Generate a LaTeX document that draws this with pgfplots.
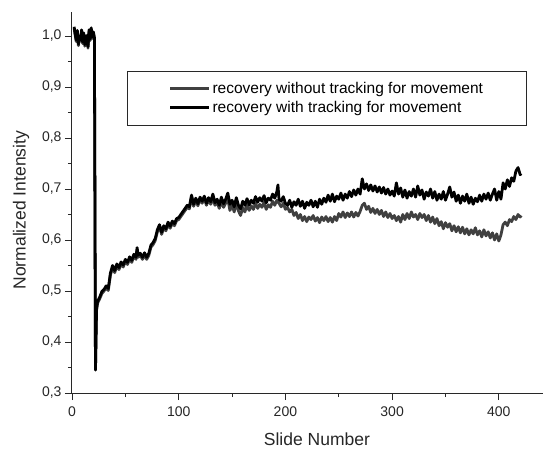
\documentclass[border=0pt]{standalone}
\usepackage{pgfplots}
\pgfplotsset{compat=1.18}
\usepackage{fontspec}
\setmainfont{Liberation Sans}
\definecolor{grayline}{RGB}{64,64,64}
\definecolor{axcol}{RGB}{40,40,40}
\begin{document}
\begin{tikzpicture}
\begin{axis}[
  scale only axis,
  width=471pt, height=381pt,
  xmin=0, xmax=441.4, ymin=0.3, ymax=1.047,
  axis x line*=bottom, axis y line*=left,
  axis line style={line width=1pt, color=axcol},
  every tick/.style={line width=0.9pt, color=axcol},
  tick align=outside,
  major tick length=7pt, minor tick length=4pt,
  minor tick num=1,
  xtick={0,100,200,300,400},
  ytick={0.3,0.4,0.5,0.6,0.7,0.8,0.9,1.0},
  /pgf/number format/assume math mode=true,
  yticklabel style={/pgf/number format/.cd, use comma, fixed, fixed zerofill, precision=1},
  xticklabel style={yshift=-3pt},
  ticklabel style={font=\fontsize{14}{16}\selectfont, text=black!85},
  xlabel={Slide Number}, ylabel={Normalized Intensity},
  label style={font=\fontsize{17.5}{20}\selectfont, text=black!85},
  ylabel style={at={(axis description cs:-0.108,0.48)}, anchor=center},
  xlabel style={at={(axis description cs:0.52,-0.122)}, anchor=center},
  legend style={at={(0.117,0.845)}, anchor=north west, draw=axcol, line width=0.8pt,
    font=\fontsize{15.5}{18}\selectfont, inner xsep=41pt, inner ysep=9pt, row sep=2pt},
  legend cell align=left,
  legend image code/.code={\draw[#1] (0pt,0pt) -- (39pt,0pt);},
  legend image post style={line width=3pt},
]
\coordinate (sw) at (rel axis cs:0,0);
\coordinate (ne) at (rel axis cs:1,1);
\addplot[grayline, line width=2.8pt, line join=round] table {
2 1.015
3 1.001
4 0.989
5 1.008
6 0.981
7 0.996
8 0.990
9 1.009
10 0.985
11 1.003
12 0.980
13 0.993
14 0.998
15 0.976
16 1.009
17 0.991
18 1.013
19 0.995
20 1.005
21 0.994
22 0.345
23 0.462
24 0.476
26 0.485
28 0.495
30 0.500
32 0.506
34 0.501
36 0.531
38 0.546
40 0.536
42 0.549
44 0.542
46 0.553
48 0.547
50 0.558
52 0.552
54 0.563
56 0.556
58 0.568
60 0.562
61 0.581
62 0.566
64 0.570
66 0.562
68 0.571
70 0.562
72 0.570
74 0.586
76 0.591
78 0.599
80 0.616
82 0.626
84 0.611
86 0.624
88 0.618
90 0.631
92 0.623
94 0.633
96 0.628
98 0.638
100 0.640
102 0.646
104 0.652
106 0.658
108 0.664
110 0.661
112 0.684
114 0.666
116 0.678
118 0.667
120 0.680
122 0.672
124 0.682
126 0.668
128 0.679
130 0.670
132 0.682
134 0.668
136 0.674
138 0.662
140 0.676
142 0.664
144 0.672
146 0.680
148 0.658
150 0.668
152 0.655
154 0.672
156 0.657
158 0.648
160 0.664
162 0.655
164 0.668
166 0.658
168 0.667
170 0.660
172 0.672
174 0.662
176 0.670
178 0.664
180 0.674
182 0.660
184 0.669
186 0.664
188 0.676
190 0.668
192 0.678
194 0.672
196 0.665
198 0.672
200 0.660
202 0.664
204 0.655
206 0.660
208 0.648
210 0.654
212 0.642
214 0.650
216 0.638
218 0.646
220 0.636
222 0.645
224 0.640
226 0.648
228 0.637
230 0.644
232 0.634
234 0.645
236 0.638
238 0.646
240 0.636
242 0.644
244 0.635
246 0.646
248 0.638
250 0.652
252 0.645
254 0.655
256 0.644
258 0.653
260 0.646
262 0.655
264 0.645
266 0.654
268 0.647
270 0.656
272 0.668
274 0.672
276 0.660
278 0.666
280 0.654
282 0.662
284 0.652
286 0.660
288 0.650
290 0.658
292 0.646
294 0.655
296 0.644
298 0.652
300 0.642
302 0.648
304 0.638
306 0.646
308 0.635
310 0.650
312 0.640
314 0.652
316 0.642
318 0.655
320 0.645
322 0.650
324 0.640
326 0.652
328 0.644
330 0.650
332 0.638
334 0.648
336 0.635
338 0.645
340 0.632
342 0.642
344 0.628
346 0.636
348 0.622
350 0.634
352 0.625
354 0.632
356 0.618
358 0.628
360 0.616
362 0.626
364 0.614
366 0.625
368 0.612
370 0.622
372 0.610
374 0.620
376 0.612
378 0.624
380 0.610
382 0.618
384 0.606
386 0.620
388 0.608
390 0.616
392 0.604
394 0.614
396 0.600
398 0.612
400 0.598
402 0.610
404 0.630
406 0.635
408 0.628
410 0.640
412 0.636
414 0.646
416 0.640
418 0.650
420 0.645
421 0.648
};
\addlegendentry{recovery without tracking for movement}
\addplot[black, line width=2.8pt, line join=round] table {
2 1.018
3 1.004
4 0.992
5 1.011
6 0.984
7 0.999
8 0.993
9 1.012
10 0.988
11 1.006
12 0.983
13 0.996
14 1.001
15 0.979
16 1.012
17 0.994
18 1.016
19 0.998
20 1.008
21 0.997
22 0.345
23 0.465
24 0.480
26 0.488
28 0.499
30 0.503
32 0.510
34 0.505
36 0.535
38 0.550
40 0.540
42 0.553
44 0.546
46 0.557
48 0.551
50 0.562
52 0.556
54 0.567
56 0.560
58 0.572
60 0.566
61 0.585
62 0.570
64 0.574
66 0.566
68 0.575
70 0.566
72 0.574
74 0.590
76 0.595
78 0.603
80 0.620
82 0.630
84 0.615
86 0.628
88 0.622
90 0.635
92 0.627
94 0.637
96 0.632
98 0.642
100 0.644
102 0.650
104 0.656
106 0.662
108 0.668
110 0.665
112 0.688
114 0.670
116 0.682
118 0.671
120 0.684
122 0.676
124 0.686
126 0.672
128 0.683
130 0.675
132 0.690
134 0.673
136 0.680
138 0.668
140 0.684
142 0.671
144 0.680
146 0.692
148 0.670
150 0.678
152 0.665
154 0.683
156 0.668
158 0.661
160 0.676
162 0.668
164 0.681
166 0.669
168 0.678
170 0.672
172 0.685
174 0.674
176 0.683
178 0.676
180 0.687
182 0.673
184 0.682
186 0.678
188 0.690
190 0.682
192 0.695
193 0.708
194 0.680
196 0.676
198 0.685
200 0.672
202 0.668
204 0.678
206 0.664
208 0.675
210 0.668
212 0.680
214 0.666
216 0.676
218 0.662
220 0.674
222 0.668
224 0.678
226 0.665
228 0.676
230 0.664
232 0.680
234 0.670
236 0.682
238 0.674
240 0.688
242 0.676
244 0.690
246 0.675
248 0.686
250 0.680
252 0.692
254 0.678
256 0.690
258 0.682
260 0.695
262 0.685
264 0.698
266 0.688
268 0.700
270 0.690
272 0.720
274 0.700
276 0.710
278 0.697
280 0.708
282 0.696
284 0.706
286 0.694
288 0.704
290 0.692
292 0.703
294 0.690
296 0.700
298 0.688
300 0.696
302 0.686
304 0.712
306 0.690
308 0.702
310 0.684
312 0.698
314 0.682
316 0.695
318 0.686
320 0.700
322 0.684
324 0.706
326 0.688
328 0.698
330 0.680
332 0.694
334 0.686
336 0.700
338 0.682
340 0.695
342 0.678
344 0.690
346 0.680
348 0.695
350 0.678
352 0.690
354 0.704
356 0.684
358 0.694
360 0.676
362 0.688
364 0.672
366 0.686
368 0.676
370 0.690
372 0.672
374 0.684
376 0.670
378 0.682
380 0.675
382 0.688
384 0.676
386 0.690
388 0.680
390 0.692
392 0.678
394 0.690
396 0.700
398 0.678
400 0.695
402 0.680
404 0.712
406 0.700
408 0.718
410 0.705
412 0.722
414 0.715
416 0.735
418 0.742
420 0.728
421 0.730
};
\addlegendentry{recovery with tracking for movement}
\end{axis}
\pgfresetboundingbox
\path[use as bounding box] ([shift={(-72pt,-57pt)}]sw) rectangle ([shift={(0pt,12pt)}]ne);
\end{tikzpicture}
\end{document}
